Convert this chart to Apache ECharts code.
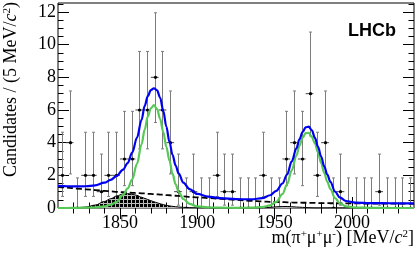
<!DOCTYPE html>
<html><head><meta charset="utf-8">
<script src="https://cdn.jsdelivr.net/npm/echarts@6/dist/echarts.min.js"></script>
<style>html,body{margin:0;padding:0;background:#fff}#c{width:419px;height:261px}</style>
</head><body><div id="c"></div>
<script>
// ---- data ----
const binCenters = [1812.5,1817.5,1822.5,1827.5,1832.5,1837.5,1842.5,1847.5,1852.5,1857.5,
  1862.5,1867.5,1872.5,1877.5,1882.5,1887.5,1892.5,1897.5,1902.5,1907.5,
  1912.5,1917.5,1922.5,1927.5,1932.5,1937.5,1942.5,1947.5,1952.5,1957.5,
  1962.5,1967.5,1972.5,1977.5,1982.5,1987.5,1992.5,1997.5,2002.5,2007.5,
  2012.5,2017.5,2022.5,2027.5,2032.5,2037.5];
const counts = [2,4,0,2,2,1,2,2,3,3,
  6,6,8,6,4,1,0,1,0,0,
  2,1,1,0,0,0,2,0,0,3,
  4,3,7,2,4,0,1,0,0,0,
  0,1,0,0,0,0];
// Poisson (Garwood 68%) interval bounds indexed by count
const poissonLow  = [0, 0.173, 0.708, 1.367, 2.086, 2.840, 3.620, 4.419, 5.232];
const poissonHigh = [1.841, 3.300, 4.638, 5.918, 7.163, 8.382, 9.584, 10.77, 11.95];

const fitMass = [1810,1816,1822,1828,1834,1840,1844,1848,1852,1855,
  1858,1861,1864,1866,1868,1870,1872,1874,1876,1878,
  1880,1882,1884,1886,1888,1891,1895,1900,1907,1915,
  1925,1935,1942,1947,1951,1955,1958,1961,1964,1966,
  1968,1970,1972,1974,1976,1978,1980,1982,1984,1986,
  1989,1992,1996,2002,2012,2025,2040];
const fitTotal = [1.35,1.33,1.32,1.33,1.38,1.55,1.72,1.97,2.35,2.75,
  3.4,4.3,5.4,6.25,6.85,7.22,7.33,7.2,6.75,5.95,
  4.98,4.05,3.25,2.6,2.1,1.55,1.15,0.86,0.7,0.6,
  0.54,0.53,0.6,0.78,1.05,1.5,2.05,2.85,3.65,4.2,
  4.65,4.93,4.98,4.75,4.3,3.75,3.15,2.55,2.05,1.6,
  1.0,0.65,0.43,0.33,0.3,0.29,0.28];
const fitSignal = [0,0,0.01,0.02,0.04,0.1,0.2,0.38,0.8,1.2,
  1.75,2.7,3.9,4.8,5.6,6.1,6.3,6.05,5.45,4.65,
  3.75,2.9,2.1,1.45,0.98,0.55,0.25,0.1,0.04,0.02,
  0.01,0.02,0.06,0.16,0.38,0.85,1.45,2.3,3.2,3.8,
  4.3,4.58,4.6,4.35,3.95,3.4,2.75,2.15,1.6,1.15,
  0.6,0.3,0.1,0.03,0.01,0,0];
const fitComb = [1.3,1.25,1.19,1.14,1.1,1.05,1.02,0.99,0.97,0.95,
  0.93,0.91,0.9,0.89,0.87,0.86,0.85,0.84,0.82,0.81,
  0.79,0.78,0.76,0.75,0.74,0.71,0.68,0.65,0.61,0.56,
  0.5,0.44,0.4,0.38,0.37,0.36,0.35,0.34,0.33,0.33,
  0.32,0.32,0.32,0.31,0.31,0.3,0.3,0.3,0.3,0.29,
  0.29,0.29,0.28,0.28,0.27,0.27,0.26];
const fitPeaking = [0,0,0.02,0.06,0.18,0.4,0.57,0.74,0.86,0.88,
  0.84,0.77,0.66,0.59,0.52,0.45,0.38,0.32,0.26,0.21,
  0.16,0.13,0.1,0.08,0.06,0.04,0.02,0.01,0,0,
  0,0,0.01,0.04,0.07,0.09,0.09,0.08,0.06,0.05,
  0.04,0.03,0.02,0.01,0,0,0,0,0,0,
  0,0,0,0,0,0,0];

const xMajorTicks = [1850,1900,1950,2000];
const xMinorTicks = [1820,1830,1840,1860,1870,1880,1890,1910,1920,1930,1940,1960,1970,1980,1990,2010,2020,2030];
const yMajorTicks = [0,2,4,6,8,10,12];
const yMinorTicks = [0.5,1,1.5,2.5,3,3.5,4.5,5,5.5,6.5,7,7.5,8.5,9,9.5,10.5,11,11.5,12.5];

const X_MIN = 1810, X_MAX = 2040, Y_MAX = 12.55;
const BIN_HALF = 2.5;

// ---- build ----
const zip = (xs, ys) => xs.map((x, i) => [x, ys[i]]);
const errData = binCenters.map((x, i) => [x, counts[i], poissonLow[counts[i]], poissonHigh[counts[i]]]);

const pat = document.createElement('canvas');
pat.width = 4; pat.height = 4;
const pctx = pat.getContext('2d');
pctx.fillStyle = '#000'; pctx.fillRect(0, 0, 4, 4);
pctx.fillStyle = '#bdbdbd'; pctx.fillRect(3, 0, 1, 4); pctx.fillRect(0, 3, 4, 1);

const serif = 'Liberation Serif';
const plain = (v) => String(v);
const axisCommon = (extra) => Object.assign({
  type: 'value', splitLine: {show: false},
  axisLine: {show: false}
}, extra);

function xAx(pos, len, ticks, labels) {
  return axisCommon({
    position: pos, min: X_MIN, max: X_MAX,
    axisTick: {show: true, inside: true, length: len, customValues: ticks, lineStyle: {color: '#000', width: 1}},
    axisLabel: labels ? {show: true, customValues: ticks, formatter: plain, fontFamily: serif, fontSize: 18, color: '#000', margin: 6} : {show: false}
  });
}
function yAx(pos, len, ticks, labels) {
  return axisCommon({
    position: pos, min: 0, max: Y_MAX,
    axisTick: {show: true, inside: true, length: len, customValues: ticks, lineStyle: {color: '#000', width: 1}},
    axisLabel: labels ? {show: true, customValues: ticks, formatter: plain, fontFamily: serif, fontSize: 18, color: '#000', margin: 2} : {show: false}
  });
}

function renderErr(params, api) {
  const x = api.value(0), n = api.value(1), lo = api.value(2), hi = api.value(3);
  const top = api.coord([x, hi]), bot = api.coord([x, lo]), c = api.coord([x, n]);
  const L = api.coord([x - BIN_HALF, n]), R = api.coord([x + BIN_HALF, n]);
  const cx = Math.round(c[0]) + 0.5;
  const cap = 1.5, gray = '#7d7d7d';
  return {type: 'group', children: [
    {type: 'line', shape: {x1: cx, y1: top[1], x2: cx, y2: bot[1]}, style: {stroke: gray, lineWidth: 1}},
    {type: 'line', shape: {x1: cx - cap, y1: top[1], x2: cx + cap, y2: top[1]}, style: {stroke: gray, lineWidth: 1}},
    {type: 'line', shape: {x1: cx - cap, y1: bot[1], x2: cx + cap, y2: bot[1]}, style: {stroke: gray, lineWidth: 1}},
    {type: 'line', shape: {x1: L[0], y1: c[1], x2: R[0], y2: c[1]}, style: {stroke: '#444', lineWidth: 1}},
    {type: 'circle', shape: {cx: cx, cy: c[1], r: 1.6}, style: {fill: '#000'}}
  ]};
}

const lineBase = {type: 'line', showSymbol: false, smooth: 0.35, smoothMonotone: 'x', xAxisIndex: 0, yAxisIndex: 0, silent: true};

const chart = echarts.init(document.getElementById('c'), null, {renderer: 'canvas'});
chart.setOption({
  animation: false,
  grid: {left: 58, right: 5, top: 3, bottom: 53, show: true, borderColor: '#000', borderWidth: 1, backgroundColor: 'transparent'},
  xAxis: [xAx('bottom', 11, xMajorTicks, true), xAx('bottom', 5.5, xMinorTicks, false),
          xAx('top', 11, xMajorTicks, false), xAx('top', 5.5, xMinorTicks, false)],
  yAxis: [yAx('left', 11, yMajorTicks, true), yAx('left', 5.5, yMinorTicks, false),
          yAx('right', 11, yMajorTicks, false), yAx('right', 5.5, yMinorTicks, false)],
  series: [
    {type: 'custom', renderItem: renderErr, data: errData, encode: {x: 0, y: 1}, clip: true, z: 2, silent: true},
    Object.assign({}, lineBase, {data: zip(fitMass, fitPeaking), z: 3,
      lineStyle: {color: '#000', width: 1},
      areaStyle: {color: {image: pat, repeat: 'repeat'}, opacity: 1}}),
    Object.assign({}, lineBase, {data: zip(fitMass, fitComb), z: 4,
      lineStyle: {color: '#000', width: 1.8, type: [6, 3]}}),
    Object.assign({}, lineBase, {data: zip(fitMass, fitSignal), z: 5,
      lineStyle: {color: '#55c855', width: 2.2}}),
    Object.assign({}, lineBase, {data: zip(fitMass, fitTotal), z: 6,
      lineStyle: {color: '#0000f0', width: 2.2}})
  ],
  graphic: [
    {type: 'text', x: 11, y: 2, rotation: Math.PI / 2, z: 10,
     style: {text: 'Candidates / (5 MeV/{i|c}{s|2})', fontFamily: serif, fontSize: 18, fill: '#000',
       textAlign: 'right', textVerticalAlign: 'middle',
       rich: {i: {fontFamily: serif, fontSize: 18, fontStyle: 'italic'}, s: {fontFamily: serif, fontSize: 11, verticalAlign: 'top'}}}},
    {type: 'text', x: 414, y: 238, z: 10,
     style: {text: 'm(π{s|+}μ{s|+}μ{s|-}) [MeV/{i|c}{s|2}]', fontFamily: serif, fontSize: 18, fill: '#000',
       textAlign: 'right', textVerticalAlign: 'middle',
       rich: {i: {fontFamily: serif, fontSize: 18, fontStyle: 'italic'}, s: {fontFamily: serif, fontSize: 11, verticalAlign: 'top'}}}},
    {type: 'text', x: 372, y: 31, z: 10,
     style: {text: 'LHCb', fontFamily: 'Liberation Sans', fontWeight: 'bold', fontSize: 18, fill: '#000',
       textAlign: 'center', textVerticalAlign: 'middle'}}
  ]
});
</script></body></html>
